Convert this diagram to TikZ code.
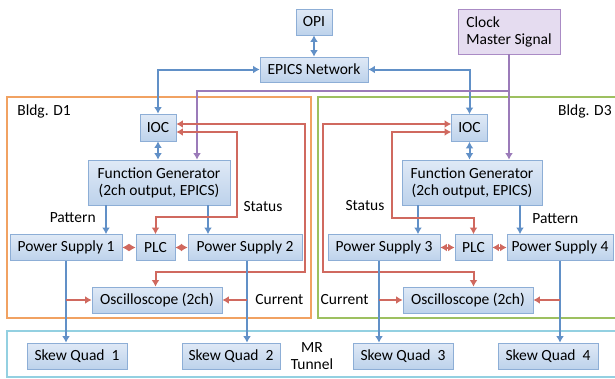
\documentclass[tikz,border=0pt]{standalone}
\usepackage{fontspec}
\setmainfont{Carlito}
\usepackage{tikz}
\usetikzlibrary{arrows.meta}
\definecolor{Box_top}{rgb}{0.875, 0.914, 0.965}
\definecolor{Box_bottom}{rgb}{0.741, 0.824, 0.922}
\definecolor{Box_edge}{rgb}{0.553, 0.682, 0.839}
\definecolor{Clock_fill}{rgb}{0.898, 0.863, 0.941}
\definecolor{Clock_edge}{rgb}{0.667, 0.545, 0.773}
\definecolor{Net_blue}{rgb}{0.380, 0.565, 0.780}
\definecolor{Sig_red}{rgb}{0.816, 0.412, 0.373}
\definecolor{Clk_purple}{rgb}{0.608, 0.482, 0.725}
\definecolor{D1_orange}{rgb}{0.945, 0.635, 0.384}
\definecolor{D3_green}{rgb}{0.616, 0.753, 0.376}
\definecolor{MR_cyan}{rgb}{0.576, 0.816, 0.882}
\tikzset{every picture/.style={/utils/exec={\fontsize{15.5}{17}\selectfont}}}
\tikzset{
  unit/.style={draw=Box_edge, line width=0.9pt, top color=Box_top, bottom color=Box_bottom, inner sep=2pt, minimum height=26pt},
  netboth/.style={Net_blue, line width=2pt, {Latex[length=6.5pt,width=8pt]}-{Latex[length=6.5pt,width=8pt]}},
  netfeed/.style={Net_blue, line width=2pt, -{Latex[length=6.5pt,width=8pt]}},
  sigboth/.style={Sig_red, line width=2pt, {Latex[length=6.5pt,width=8pt]}-{Latex[length=6.5pt,width=8pt]}},
  sigfeed/.style={Sig_red, line width=2pt, -{Latex[length=6.5pt,width=8pt]}},
  clkfeed/.style={Clk_purple, line width=2pt, -{Latex[length=6.5pt,width=8pt]}}
}

\begin{document}
\begin{tikzpicture}
    \useasboundingbox (0pt, 0pt) rectangle (615pt, -378pt);
    % buildings and tunnel
    \draw[D1_orange, line width=1.5pt] (7pt, -97pt) rectangle (311pt, -318pt);
    \draw[D3_green, line width=1.5pt] (318pt, -97pt) rectangle (625pt, -318pt);
    \draw[MR_cyan, line width=1.5pt] (7pt, -331pt) rectangle (625pt, -377pt);
    \node[anchor=west] (bldg1) at (12pt, -111pt) {Bldg. D1};
    \node[anchor=east] (bldg3) at (617pt, -111pt) {Bldg. D3};
    \node[align=center] (tunnel) at (312pt, -356pt) {MR\\Tunnel};

    % network
    \node[unit, minimum width=36pt] (opi) at (314pt, -22pt) {OPI};
    \node[unit, minimum width=108pt, minimum height=25pt] (epics) at (314pt, -69.5pt) {EPICS Network};
    \node[draw=Clock_edge, line width=0.9pt, fill=Clock_fill, align=left, minimum width=102pt, minimum height=45pt] (clock) at (509pt, -31.5pt) {Clock\\Master Signal};

    % Bldg. D1
    \node[unit, minimum width=36pt, minimum height=27pt] (ioc1) at (158pt, -127.5pt) {IOC};
    \node[unit, align=center, minimum width=142pt, minimum height=45pt] (fg1) at (159pt, -182.5pt) {Function Generator\\(2ch output, EPICS)};
    \node[unit, minimum width=112pt] (ps1) at (66pt, -247.5pt) {Power Supply 1};
    \node[unit, minimum width=39pt] (plc1) at (155.5pt, -247.5pt) {PLC};
    \node[unit, minimum width=114pt] (ps2) at (245pt, -247.5pt) {Power Supply 2};
    \node[unit, minimum width=130pt] (osc1) at (157pt, -300pt) {Oscilloscope (2ch)};

    % Bldg. D3
    \node[unit, minimum width=36pt, minimum height=27pt] (ioc3) at (469.5pt, -128pt) {IOC};
    \node[unit, align=center, minimum width=140pt, minimum height=45pt] (fg3) at (472pt, -182.5pt) {Function Generator\\(2ch output, EPICS)};
    \node[unit, minimum width=112pt] (ps3) at (384pt, -247.5pt) {Power Supply 3};
    \node[unit, minimum width=37pt] (plc3) at (473.5pt, -247.5pt) {PLC};
    \node[unit, minimum width=106pt] (ps4) at (560pt, -247.5pt) {Power Supply 4};
    \node[unit, minimum width=130pt] (osc3) at (468pt, -300pt) {Oscilloscope (2ch)};

    % tunnel magnets
    \node[unit, minimum width=100pt] (sq1) at (77pt, -356pt) {Skew Quad~ 1};
    \node[unit, minimum width=98pt] (sq2) at (231pt, -356pt) {Skew Quad~ 2};
    \node[unit, minimum width=100pt] (sq3) at (403pt, -356pt) {Skew Quad~ 3};
    \node[unit, minimum width=100pt] (sq4) at (548pt, -356pt) {Skew Quad~ 4};

    % labels
    \node[anchor=east] (pat1) at (101pt, -218pt) {Pattern};
    \node (stat1) at (263pt, -207pt) {Status};
    \node[anchor=west] (cur1) at (250pt, -300pt) {Current};
    \node (stat3) at (365pt, -206pt) {Status};
    \node[anchor=west] (pat3) at (527pt, -219pt) {Pattern};
    \node[anchor=east] (cur3) at (374pt, -300pt) {Current};

    % EPICS links
    \draw[netboth] (opi.south) -- (epics.north);
    \draw[netboth] (ioc1.north) |- (epics.west);
    \draw[netboth] (ioc3.north) |- (epics.east);
    \draw[netboth] (ioc1.south) -- (ioc1.south |- fg1.north);
    \draw[netboth] (ioc3.south) -- (ioc3.south |- fg3.north);

    % clock
    \draw[clkfeed] (clock.south) -- (clock.south |- fg3.north);
    \draw[clkfeed] ([yshift=-36.5pt]clock.south) -| ([xshift=38pt]fg1.north);

    % patterns
    \draw[netfeed] ([xshift=-53pt]fg1.south) -- ([xshift=-53pt]fg1.south |- ps1.north);
    \draw[netfeed] ([xshift=49pt]fg1.south) -- ([xshift=49pt]fg1.south |- ps2.north);
    \draw[netfeed] ([xshift=-54pt]fg3.south) -- ([xshift=-54pt]fg3.south |- ps3.north);
    \draw[netfeed] ([xshift=48pt]fg3.south) -- ([xshift=48pt]fg3.south |- ps4.north);

    % interlock
    \draw[sigboth] (ps1.east) -- (plc1.west);
    \draw[sigboth] (plc1.east) -- (ps2.west);
    \draw[sigboth] (ps3.east) -- (plc3.west);
    \draw[sigboth] (plc3.east) -- (ps4.west);

    % status back to IOC
    \draw[sigboth] ([yshift=-4.5pt]ioc1.east) -- ++(61pt, 0) |- ([yshift=17.5pt]plc1.north) -- (plc1.north);
    \draw[sigboth] ([yshift=3.5pt]ioc1.east) -- ++(129pt, 0) |- ([yshift=15pt]plc1.north |- osc1.north) -- (plc1.north |- osc1.north);
    \draw[sigboth] ([yshift=-4pt]ioc3.west) -- ++(-59.5pt, 0) |- ([yshift=16.5pt]plc3.north) -- (plc3.north);
    \draw[sigboth] ([yshift=4pt]ioc3.west) -- ++(-128.5pt, 0) |- ([yshift=15pt]plc3.north |- osc3.north) -- (plc3.north |- osc3.north);

    % magnet currents
    \draw[netfeed] (ps1.south) -- (ps1.south |- sq1.north);
    \draw[netfeed] ([xshift=2pt]ps2.south) -- ([xshift=2pt]ps2.south |- sq2.north);
    \draw[netfeed] ([xshift=-5pt]ps3.south) -- ([xshift=-5pt]ps3.south |- sq3.north);
    \draw[netfeed] (ps4.south) -- (ps4.south |- sq4.north);
    \draw[sigfeed] (ps1.south |- osc1.west) -- (osc1.west);
    \draw[sigfeed] ([xshift=2pt]ps2.south |- osc1.east) -- (osc1.east);
    \draw[sigfeed] ([xshift=-5pt]ps3.south |- osc3.west) -- (osc3.west);
    \draw[sigfeed] (ps4.south |- osc3.east) -- (osc3.east);
\end{tikzpicture}
\end{document}
